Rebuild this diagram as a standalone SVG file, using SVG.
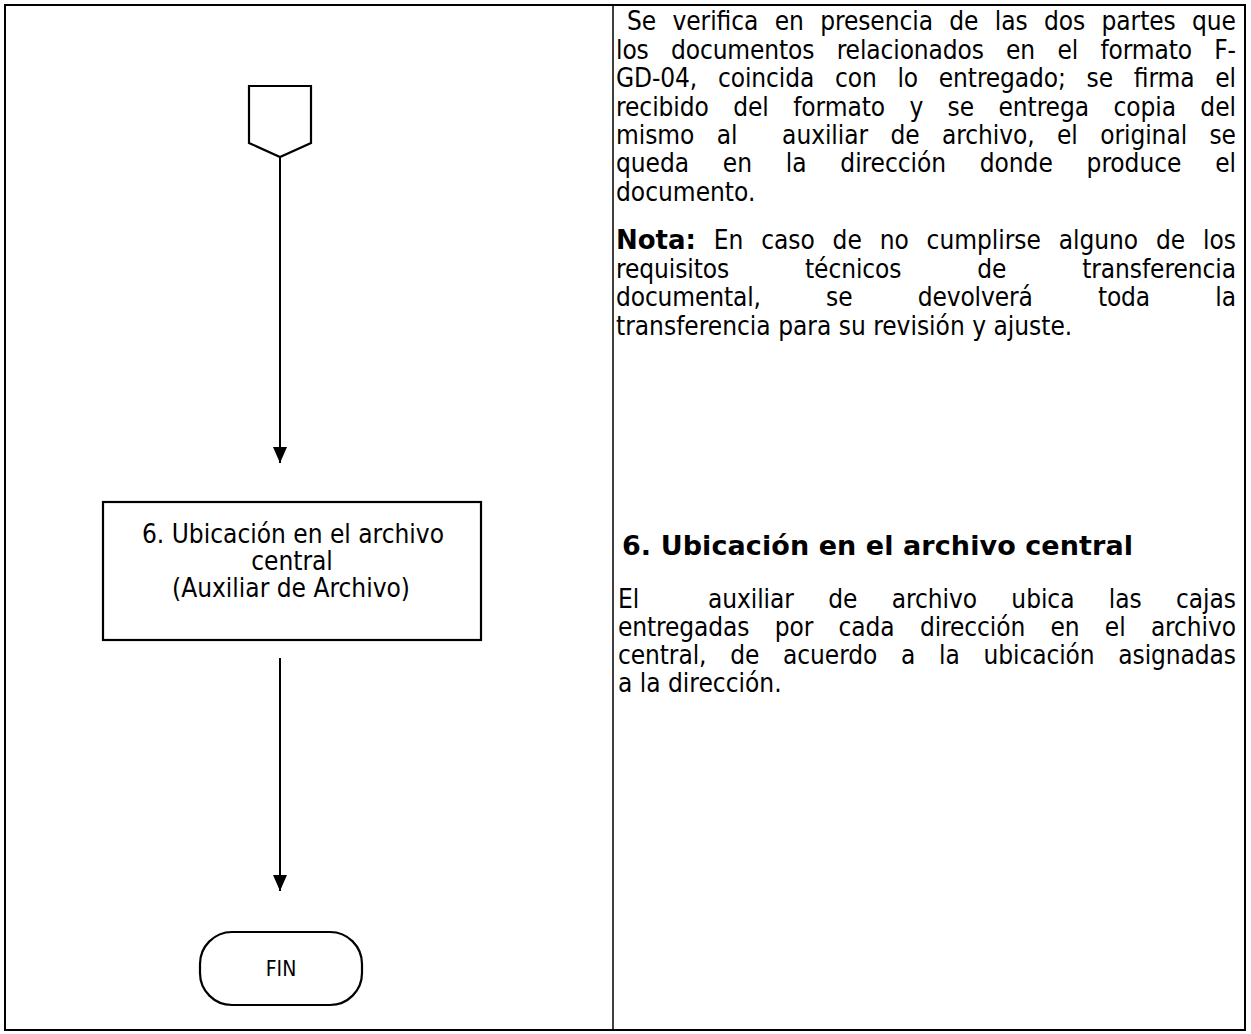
<svg xmlns="http://www.w3.org/2000/svg" width="1251" height="1034" viewBox="0 0 1251 1034">
<style>
.t{font-family:"DejaVu Sans Condensed","DejaVu Sans",sans-serif;font-size:26px;fill:#000}
.b{font-family:"DejaVu Sans",sans-serif;font-weight:bold}
.c{text-anchor:middle}
.ln{stroke:#000;stroke-width:2;fill:none}
.shape{stroke:#000;stroke-width:2.2;fill:#fff}
</style>
<defs>
<marker id="arr" viewBox="0 0 16 16" refX="16" refY="8" markerWidth="16" markerHeight="16" markerUnits="userSpaceOnUse" orient="auto">
<path d="M0,1 L16,8 L0,15 z" fill="#000"/>
</marker>
</defs>
<rect width="1251" height="1034" fill="#fff"/>
<g id="table">
<rect x="5" y="5" width="1240" height="1025" fill="none" stroke="#000" stroke-width="2"/>
<line x1="613" y1="5" x2="613" y2="1030" stroke="#000" stroke-width="1.5"/>
</g>
<g id="connectors">
<line class="ln" x1="280" y1="157" x2="280" y2="463" marker-end="url(#arr)"/>
<line class="ln" x1="280" y1="658" x2="280" y2="891" marker-end="url(#arr)"/>
</g>
<g id="offpage">
<polygon class="shape" stroke-width="3" points="249,86 311,86 311,143 280,157 249,143"/>
</g>
<g id="step6">
<rect class="shape" x="103" y="502" width="378" height="138"/>
<text class="t c" x="293" y="543">6. Ubicación en el archivo</text>
<text class="t c" x="292" y="570">central</text>
<text class="t c" x="291" y="597">(Auxiliar de Archivo)</text>
</g>
<g id="fin">
<rect class="shape" x="200" y="932" width="162" height="73" rx="32" ry="32"/>
<text class="t c" x="281" y="976" style="font-size:21px">FIN</text>
</g>
<g id="description">
<text class="t" x="627" y="30" word-spacing="9" textLength="609" lengthAdjust="spacing">Se verifica en presencia de las dos partes que</text>
<text class="t" x="616" y="59" word-spacing="15" textLength="620" lengthAdjust="spacing">los documentos relacionados en el formato F-</text>
<text class="t" x="616" y="87" word-spacing="13.5" textLength="620" lengthAdjust="spacing">GD-04, coincida con lo entregado; se firma el</text>
<text class="t" x="616" y="116" word-spacing="17" textLength="620" lengthAdjust="spacing">recibido del formato y se entrega copia del</text>
<text class="t" x="616" y="144" word-spacing="15" textLength="620" lengthAdjust="spacing" xml:space="preserve">mismo al  auxiliar de archivo, el original se</text>
<text class="t" x="616" y="172" word-spacing="26.5" textLength="620" lengthAdjust="spacing">queda en la dirección donde produce el</text>
<text class="t" x="616" y="201">documento.</text>
<text class="t" x="616" y="249" word-spacing="10.5" textLength="620" lengthAdjust="spacing"><tspan class="b">Nota:</tspan> En caso de no cumplirse alguno de los</text>
<text class="t" x="616" y="278" word-spacing="68.5" textLength="620" lengthAdjust="spacing">requisitos técnicos de transferencia</text>
<text class="t" x="616" y="306" word-spacing="58" textLength="620" lengthAdjust="spacing">documental, se devolverá toda la</text>
<text class="t" x="616" y="335">transferencia para su revisión y ajuste.</text>
<text class="t b" x="622" y="555" style="font-size:27px" textLength="511" lengthAdjust="spacing">6. Ubicación en el archivo central</text>
<text class="t" x="618" y="608" word-spacing="27" textLength="618" lengthAdjust="spacing" xml:space="preserve">El  auxiliar de archivo ubica las cajas</text>
<text class="t" x="618" y="636" word-spacing="18" textLength="618" lengthAdjust="spacing">entregadas por cada dirección en el archivo</text>
<text class="t" x="618" y="664" word-spacing="16.5" textLength="618" lengthAdjust="spacing">central, de acuerdo a la ubicación asignadas</text>
<text class="t" x="618" y="692">a la dirección.</text>
</g>
</svg>
